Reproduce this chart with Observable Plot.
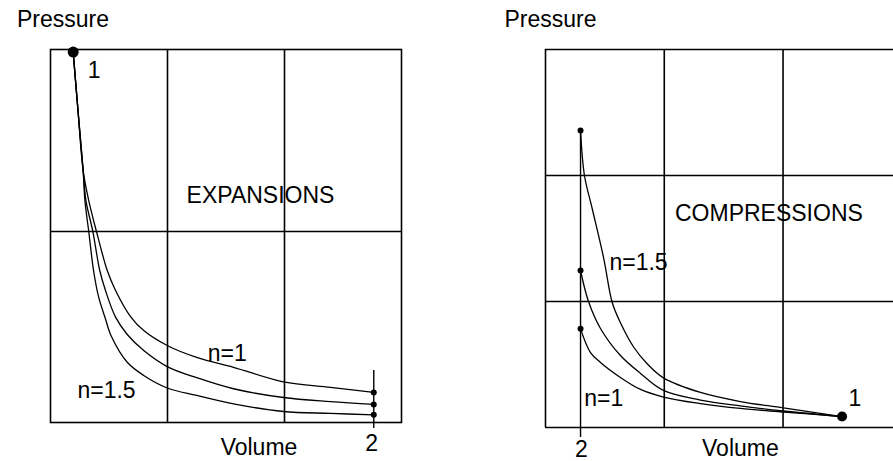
<!DOCTYPE html>
<html>
<head>
<meta charset="utf-8">
<script src="https://cdn.jsdelivr.net/npm/d3@7"></script>
<script src="https://cdn.jsdelivr.net/npm/@observablehq/plot@0.6"></script>
<style>
  html, body { margin: 0; padding: 0; background: #fff; }
  #wrap { display: flex; width: 893px; height: 461px; overflow: hidden; }
  #wrap svg { display: block; }
</style>
</head>
<body>
<div id="wrap"></div>
<script>
// ---------- EXPANSIONS panel (volume, pressure) ----------
const expGridX = [1, 2];
const expGridY = [1.024];
const expN1 = [[0.194,1.986],[0.235,1.673],[0.279,1.351],[0.327,1.190],[0.393,1.024],[0.485,0.815],[0.556,0.708],[0.684,0.568],[0.797,0.493],[0.997,0.413],[1.25,0.349],[1.564,0.296],[1.991,0.218],[2.393,0.188],[2.763,0.161]];
const expNmid = [[0.194,1.986],[0.235,1.673],[0.279,1.351],[0.303,1.190],[0.362,1.024],[0.421,0.815],[0.470,0.708],[0.556,0.565],[0.656,0.472],[0.797,0.386],[0.997,0.300],[1.25,0.240],[1.564,0.181],[1.991,0.134],[2.393,0.112],[2.763,0.097]];
const expN15 = [[0.194,1.986],[0.235,1.673],[0.279,1.351],[0.294,1.190],[0.327,1.024],[0.368,0.815],[0.410,0.676],[0.466,0.563],[0.521,0.461],[0.656,0.323],[0.797,0.252],[0.997,0.185],[1.25,0.145],[1.564,0.100],[1.991,0.059],[2.393,0.049],[2.763,0.041]];
const expState1 = [0.194, 1.986];
const expV2 = 2.763;
const expV2Line = [-0.032, 0.279];
const expLabels = [
  {x: 0.107, y: 2.161, t: "Pressure"},
  {x: 0.372, y: 1.887, t: "1"},
  {x: 2.744, y: -0.113, t: "2"},
  {x: 1.782, y: -0.134, t: "Volume"},
  {x: 1.795, y: 1.217, t: "EXPANSIONS"},
  {x: 1.510, y: 0.370, t: "n=1"},
  {x: 0.479, y: 0.172, t: "n=1.5"}
];

// ---------- COMPRESSIONS panel ----------
const cmpGridX = [0, 1, 2];
const cmpGridY = [0, 1, 2, 3];
const cmpN1 = [[0.295,0.783],[0.379,0.595],[0.463,0.516],[0.631,0.397],[0.800,0.302],[0.993,0.242],[1.305,0.190],[1.641,0.151],[2.003,0.123],[2.497,0.087]];
const cmpNmid = [[0.295,1.246],[0.362,1.000],[0.463,0.786],[0.631,0.571],[0.800,0.429],[0.993,0.294],[1.305,0.218],[1.641,0.171],[2.003,0.131],[2.497,0.087]];
const cmpN15 = [[0.295,2.357],[0.328,2.000],[0.393,1.738],[0.491,1.339],[0.561,0.994],[0.631,0.831],[0.743,0.637],[0.856,0.506],[0.993,0.394],[1.305,0.278],[1.641,0.206],[2.003,0.156],[2.497,0.087]];
const cmpState1 = [2.497, 0.087];
const cmpV2 = 0.295;
const cmpV2Line = [-0.079, 2.357];
const cmpLabels = [
  {x: 0.042, y: 3.238, t: "Pressure"},
  {x: 2.604, y: 0.230, t: "1"},
  {x: 0.303, y: -0.175, t: "2"},
  {x: 1.641, y: -0.167, t: "Volume"},
  {x: 1.881, y: 1.698, t: "COMPRESSIONS"},
  {x: 0.783, y: 1.306, t: "n=1.5"},
  {x: 0.491, y: 0.230, t: "n=1"}
];

const FONT = "'Liberation Sans', Arial, sans-serif";
const FS = 23;

function series(arrs) {
  const out = [];
  arrs.forEach((a, i) => a.forEach(([v, p]) => out.push({s: i, v, p})));
  return out;
}

const textStyle = {fill: "black", fontSize: FS, textAnchor: "middle", lineAnchor: "middle", letterSpacing: "0.5px"};

const left = Plot.plot({
  width: 450, height: 461,
  marginLeft: 50, marginRight: 49, marginTop: 49, marginBottom: 39,
  x: {domain: [0, 3], axis: null},
  y: {domain: [0, 2], axis: null},
  style: {fontFamily: FONT, fontSize: FS + "px", background: "white", overflow: "visible"},
  marks: [
    Plot.frame({stroke: "black", strokeWidth: 1.6}),
    Plot.ruleX(expGridX, {stroke: "black", strokeWidth: 1.6}),
    Plot.ruleY(expGridY, {stroke: "black", strokeWidth: 1.6}),
    Plot.ruleX([expV2], {y1: expV2Line[0], y2: expV2Line[1], stroke: "black", strokeWidth: 1.4}),
    Plot.line(series([expN1, expNmid, expN15]), {x: "v", y: "p", z: "s", stroke: "black", strokeWidth: 1.3, curve: "catmull-rom"}),
    Plot.dot([expN1, expNmid, expN15].map(a => a[a.length - 1]), {x: d => d[0], y: d => d[1], r: 3, fill: "black"}),
    Plot.dot([expState1], {x: d => d[0], y: d => d[1], r: 5.5, fill: "black"}),
    Plot.text(expLabels, {x: "x", y: "y", text: "t", ...textStyle})
  ]
});

const right = Plot.plot({
  width: 443, height: 461,
  marginLeft: 95, marginRight: 0, marginTop: 49, marginBottom: 34,
  x: {domain: [0, 2.93], axis: null},
  y: {domain: [0, 3], axis: null},
  style: {fontFamily: FONT, fontSize: FS + "px", background: "white", overflow: "visible"},
  marks: [
    Plot.ruleX(cmpGridX, {stroke: "black", strokeWidth: 1.6}),
    Plot.ruleY(cmpGridY, {stroke: "black", strokeWidth: 1.6}),
    Plot.ruleX([cmpV2], {y1: cmpV2Line[0], y2: cmpV2Line[1], stroke: "black", strokeWidth: 1.4}),
    Plot.line(series([cmpN1, cmpNmid, cmpN15]), {x: "v", y: "p", z: "s", stroke: "black", strokeWidth: 1.3, curve: "catmull-rom"}),
    Plot.dot([cmpN1, cmpNmid, cmpN15].map(a => a[0]), {x: d => d[0], y: d => d[1], r: 3, fill: "black"}),
    Plot.dot([cmpState1], {x: d => d[0], y: d => d[1], r: 5, fill: "black"}),
    Plot.text(cmpLabels, {x: "x", y: "y", text: "t", ...textStyle})
  ]
});

document.getElementById("wrap").append(left, right);
</script>
</body>
</html>
